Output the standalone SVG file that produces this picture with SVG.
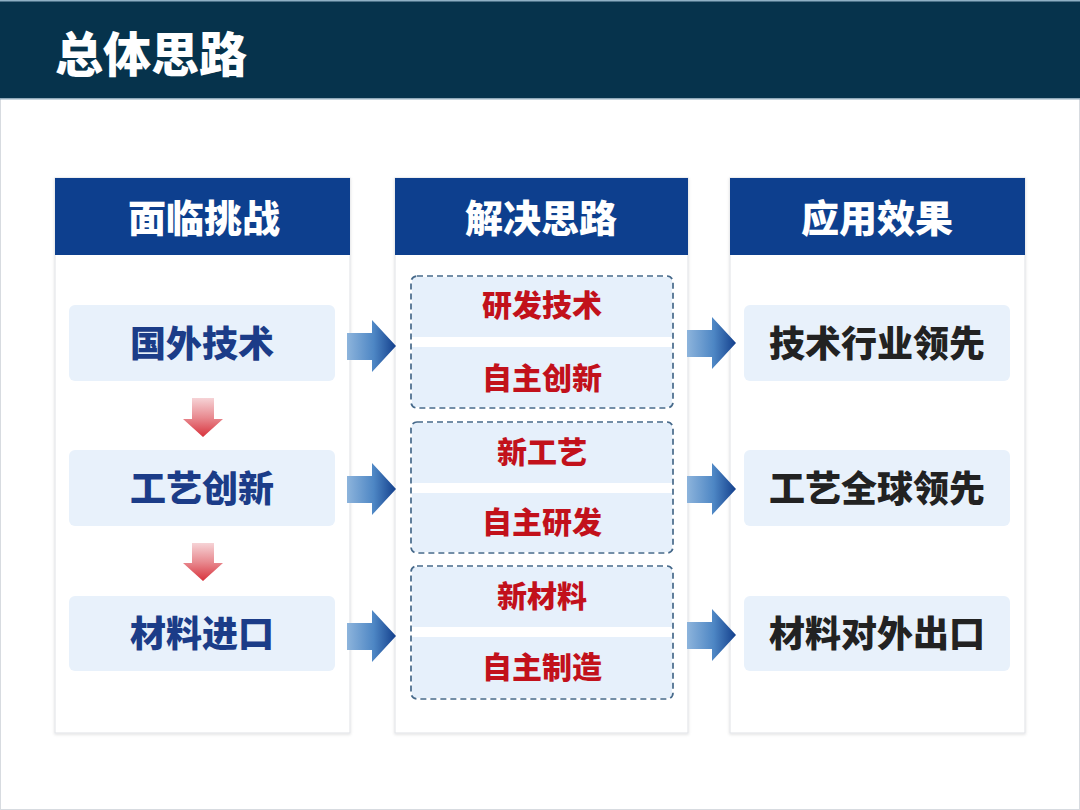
<svg xmlns="http://www.w3.org/2000/svg" width="1080" height="810" viewBox="0 0 1080 810">
<defs>
<linearGradient id="gBlue" x1="0" y1="0" x2="1" y2="0">
<stop offset="0" stop-color="#8db4dc"/>
<stop offset="0.55" stop-color="#4d86c4"/>
<stop offset="1" stop-color="#133f8c"/>
</linearGradient>
<linearGradient id="gRed" x1="0" y1="0" x2="0" y2="1">
<stop offset="0" stop-color="#f6d3d6"/>
<stop offset="0.5" stop-color="#e88a90"/>
<stop offset="1" stop-color="#d8323c"/>
</linearGradient>
<filter id="sh" x="-5%" y="-5%" width="110%" height="110%">
<feDropShadow dx="0" dy="1" stdDeviation="1.5" flood-color="#000" flood-opacity="0.12"/>
</filter>
</defs>
<style>
text{font-family:"Noto Sans CJK SC","Noto Sans",sans-serif;font-weight:700;text-anchor:middle;dominant-baseline:central}
.hd{fill:#0d3f8e}
.hdt{fill:#fff;font-size:38px;font-weight:900}
.panel{fill:#fff;stroke:#e4e6ea;stroke-width:1.2}
.nd{fill:#e8f1fb}
.bt{fill:#1b3c88;font-size:36px;font-weight:900}
.kt{fill:#222;font-size:36px;font-weight:900}
.rt{fill:#c2111b;font-size:30px;font-weight:900}
.dash{fill:none;stroke:#46698a;stroke-width:1.7;stroke-dasharray:6 4}
.sub{fill:#e6f0fb}
</style>
<rect x="0" y="0" width="1080" height="810" fill="#fff"/>
<rect x="0.5" y="0.5" width="1079" height="809" fill="none" stroke="#d7dbe0"/>
<g id="title">
<rect x="0" y="0" width="1080" height="99" fill="#06334c"/>
<rect x="0" y="0" width="1080" height="1.5" fill="#8fb0c4"/>
<rect x="0" y="98" width="1080" height="1.5" fill="#8fa9b9"/>
<text x="151" y="51" fill="#fff" style="font-size:48px;font-weight:900">总体思路</text>
</g>
<g id="col1">
<rect class="panel" x="55" y="178" width="295" height="555" filter="url(#sh)"/>
<rect class="hd" x="55" y="178" width="295" height="77"/>
<text class="hdt" x="204" y="215">面临挑战</text>
</g>
<g id="col2">
<rect class="panel" x="395" y="178" width="293" height="555" filter="url(#sh)"/>
<rect class="hd" x="395" y="178" width="293" height="77"/>
<text class="hdt" x="541" y="215">解决思路</text>
</g>
<g id="col3">
<rect class="panel" x="730" y="178" width="295" height="555" filter="url(#sh)"/>
<rect class="hd" x="730" y="178" width="295" height="77"/>
<text class="hdt" x="877" y="215">应用效果</text>
</g>
<g id="n-guowai"><rect class="nd" x="69" y="305" width="266" height="76" rx="6"/><text class="bt" x="202" y="341">国外技术</text></g>
<g id="n-gongyi"><rect class="nd" x="69" y="450" width="266" height="76" rx="6"/><text class="bt" x="202" y="486">工艺创新</text></g>
<g id="n-cailiao"><rect class="nd" x="69" y="596" width="266" height="75" rx="6"/><text class="bt" x="202" y="631">材料进口</text></g>
<g id="g1">
<rect class="sub" x="412" y="277" width="260" height="60"/>
<rect class="sub" x="412" y="347" width="260" height="60"/>
<rect class="dash" x="411" y="276" width="262" height="132" rx="6"/>
<text class="rt" x="542" y="303">研发技术</text>
<text class="rt" x="542" y="376">自主创新</text>
</g>
<g id="g2">
<rect class="sub" x="412" y="423" width="260" height="60"/>
<rect class="sub" x="412" y="493" width="260" height="59"/>
<rect class="dash" x="411" y="422" width="262" height="131" rx="6"/>
<text class="rt" x="542" y="450">新工艺</text>
<text class="rt" x="542" y="520">自主研发</text>
</g>
<g id="g3">
<rect class="sub" x="412" y="567" width="260" height="60"/>
<rect class="sub" x="412" y="637" width="260" height="61"/>
<rect class="dash" x="411" y="566" width="262" height="133" rx="6"/>
<text class="rt" x="542" y="594">新材料</text>
<text class="rt" x="542" y="665">自主制造</text>
</g>
<g id="n-jishu"><rect class="nd" x="744" y="305" width="266" height="76" rx="6"/><text class="kt" x="877" y="341">技术行业领先</text></g>
<g id="n-quanqiu"><rect class="nd" x="744" y="450" width="266" height="76" rx="6"/><text class="kt" x="877" y="486">工艺全球领先</text></g>
<g id="n-chukou"><rect class="nd" x="744" y="596" width="266" height="75" rx="6"/><text class="kt" x="877" y="631">材料对外出口</text></g>
<g id="connectors">
<path d="M192 398 H214 V419 H223 L203 437 L183 419 H192 Z" fill="url(#gRed)"/>
<path d="M192 543 H214 V563 H223 L203 581 L183 563 H192 Z" fill="url(#gRed)"/>
<g fill="url(#gBlue)">
<path d="M347 333 H372 V320 L396 346 L372 372 V360 H347 Z"/>
<path d="M347 476 H372 V463 L396 489 L372 515 V503 H347 Z"/>
<path d="M347 623 H372 V610 L396 636 L372 662 V650 H347 Z"/>
<path d="M687 330 H712 V317 L736 343 L712 369 V357 H687 Z"/>
<path d="M687 476 H712 V463 L736 489 L712 515 V503 H687 Z"/>
<path d="M687 622 H712 V609 L736 635 L712 661 V649 H687 Z"/>
</g>
</g>
</svg>
